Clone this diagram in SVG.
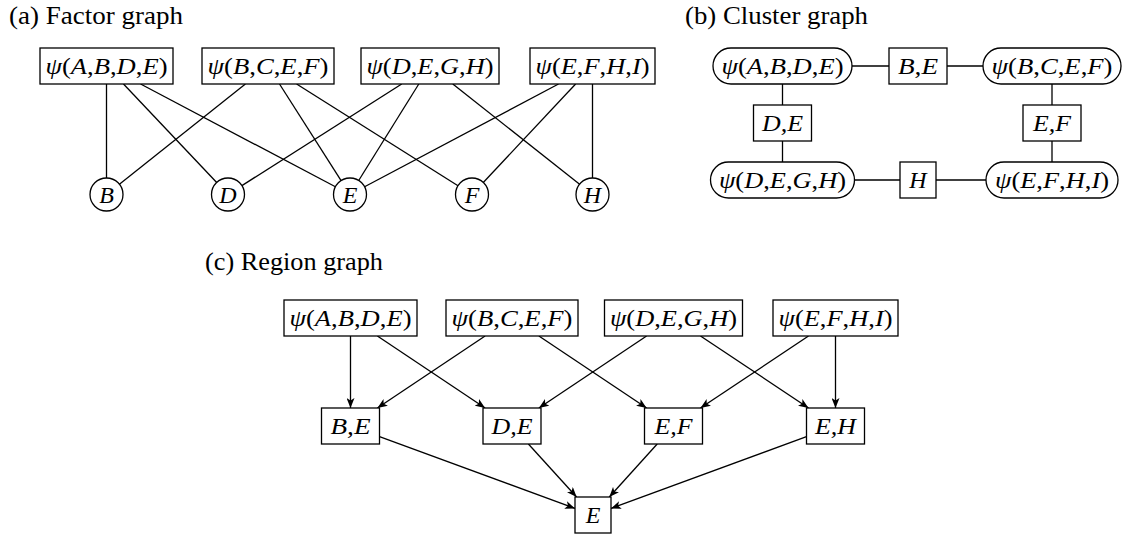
<svg xmlns="http://www.w3.org/2000/svg" width="1126" height="538" viewBox="0 0 1126 538">
<defs>
<style>
.box{fill:#fff;stroke:#000;stroke-width:1.3}
.edge{stroke:#000;stroke-width:1.3;fill:none}
.arr{marker-end:url(#ah)}
.t{font-family:'Liberation Serif','Times New Roman',serif;font-size:24px;text-anchor:middle;fill:#000}
.i{font-style:italic}
.lbl{font-family:'Liberation Serif','Times New Roman',serif;font-size:25px;fill:#000}
</style>
<marker id="ah" viewBox="0 0 10 8" refX="10" refY="4" markerWidth="10" markerHeight="8" markerUnits="userSpaceOnUse" orient="auto"><path d="M0,0 L10,4 L0,8 L2.5,4 Z" fill="#000"/></marker>
</defs>
<rect width="1126" height="538" fill="#fff"/>

<g id="labels">
<text class="lbl" x="9" y="24" textLength="174" lengthAdjust="spacingAndGlyphs">(a) Factor graph</text>
<text class="lbl" x="685" y="24" textLength="183" lengthAdjust="spacingAndGlyphs">(b) Cluster graph</text>
<text class="lbl" x="205" y="270" textLength="178" lengthAdjust="spacingAndGlyphs">(c) Region graph</text>
</g>

<g id="connectors">
<line class="edge" x1="106.5" y1="84" x2="106.5" y2="178"/>
<line class="edge" x1="123.5" y1="84" x2="216.7" y2="182.5"/>
<line class="edge" x1="140.6" y1="84" x2="335.4" y2="186.8"/>
<line class="edge" x1="245.4" y1="84" x2="119.4" y2="184.2"/>
<line class="edge" x1="279.5" y1="84" x2="341.1" y2="180.6"/>
<line class="edge" x1="296.6" y1="84" x2="458.0" y2="185.7"/>
<line class="edge" x1="401.7" y1="84" x2="241.9" y2="185.6"/>
<line class="edge" x1="418.8" y1="84" x2="358.7" y2="180.5"/>
<line class="edge" x1="452.8" y1="84" x2="579.6" y2="184.3"/>
<line class="edge" x1="558.5" y1="84" x2="364.6" y2="186.8"/>
<line class="edge" x1="575.6" y1="84" x2="483.3" y2="182.5"/>
<line class="edge" x1="592.5" y1="84" x2="592.5" y2="178"/>
<line class="edge" x1="852" y1="66" x2="889" y2="66"/>
<line class="edge" x1="947" y1="66" x2="983" y2="66"/>
<line class="edge" x1="782.5" y1="84" x2="782.5" y2="105"/>
<line class="edge" x1="782.5" y1="141" x2="782.5" y2="162"/>
<line class="edge" x1="1052" y1="84" x2="1052" y2="105"/>
<line class="edge" x1="1052" y1="141" x2="1052" y2="162"/>
<line class="edge" x1="854.5" y1="180" x2="900" y2="180"/>
<line class="edge" x1="936" y1="180" x2="986" y2="180"/>
<line class="edge arr" x1="350.5" y1="336" x2="350.5" y2="408"/>
<line class="edge arr" x1="377.4" y1="336" x2="485.1" y2="408"/>
<line class="edge arr" x1="485.1" y1="336" x2="377.4" y2="408"/>
<line class="edge arr" x1="538.9" y1="336" x2="646.6" y2="408"/>
<line class="edge arr" x1="646.6" y1="336" x2="538.9" y2="408"/>
<line class="edge arr" x1="700.5" y1="336" x2="808.5" y2="408"/>
<line class="edge arr" x1="808.5" y1="336" x2="700.5" y2="408"/>
<line class="edge arr" x1="835.5" y1="336" x2="835.5" y2="408"/>
<line class="edge arr" x1="379.5" y1="436.6" x2="575" y2="508.4"/>
<line class="edge arr" x1="528.4" y1="444" x2="576.6" y2="497"/>
<line class="edge arr" x1="657.2" y1="444" x2="609.3" y2="497"/>
<line class="edge arr" x1="806.5" y1="436.6" x2="611" y2="508.4"/>
</g>

<g id="factor-graph">
<g id="a-ABDE"><rect class="box" x="40" y="48" width="133" height="36"/><text class="t" x="106.5" y="74" textLength="122" lengthAdjust="spacingAndGlyphs"><tspan class="i">ψ</tspan>(<tspan class="i">A</tspan>,<tspan class="i">B</tspan>,<tspan class="i">D</tspan>,<tspan class="i">E</tspan>)</text></g>
<g id="a-BCEF"><rect class="box" x="202" y="48" width="132" height="36"/><text class="t" x="268" y="74" textLength="121" lengthAdjust="spacingAndGlyphs"><tspan class="i">ψ</tspan>(<tspan class="i">B</tspan>,<tspan class="i">C</tspan>,<tspan class="i">E</tspan>,<tspan class="i">F</tspan>)</text></g>
<g id="a-DEGH"><rect class="box" x="361" y="48" width="138" height="36"/><text class="t" x="430" y="74" textLength="127" lengthAdjust="spacingAndGlyphs"><tspan class="i">ψ</tspan>(<tspan class="i">D</tspan>,<tspan class="i">E</tspan>,<tspan class="i">G</tspan>,<tspan class="i">H</tspan>)</text></g>
<g id="a-EFHI"><rect class="box" x="530" y="48" width="125" height="36"/><text class="t" x="592.5" y="74" textLength="114" lengthAdjust="spacingAndGlyphs"><tspan class="i">ψ</tspan>(<tspan class="i">E</tspan>,<tspan class="i">F</tspan>,<tspan class="i">H</tspan>,<tspan class="i">I</tspan>)</text></g>
<g id="a-B"><circle class="box" cx="106.5" cy="194.5" r="16.5"/><text class="t i" x="106.5" y="202.5">B</text></g>
<g id="a-D"><circle class="box" cx="228" cy="194.5" r="16.5"/><text class="t i" x="228" y="202.5">D</text></g>
<g id="a-E"><circle class="box" cx="350" cy="194.5" r="16.5"/><text class="t i" x="350" y="202.5">E</text></g>
<g id="a-F"><circle class="box" cx="472" cy="194.5" r="16.5"/><text class="t i" x="472" y="202.5">F</text></g>
<g id="a-H"><circle class="box" cx="592.5" cy="194.5" r="16.5"/><text class="t i" x="592.5" y="202.5">H</text></g>
</g>

<g id="cluster-graph">
<g id="b-ABDE"><rect class="box" x="713" y="48" width="139" height="36" rx="18" ry="18"/><text class="t" x="782.5" y="74" textLength="122" lengthAdjust="spacingAndGlyphs"><tspan class="i">ψ</tspan>(<tspan class="i">A</tspan>,<tspan class="i">B</tspan>,<tspan class="i">D</tspan>,<tspan class="i">E</tspan>)</text></g>
<g id="b-BE"><rect class="box" x="889" y="48" width="58" height="36"/><text class="t i" x="918" y="74" textLength="40" lengthAdjust="spacingAndGlyphs">B,E</text></g>
<g id="b-BCEF"><rect class="box" x="983" y="48" width="138" height="36" rx="18" ry="18"/><text class="t" x="1052" y="74" textLength="121" lengthAdjust="spacingAndGlyphs"><tspan class="i">ψ</tspan>(<tspan class="i">B</tspan>,<tspan class="i">C</tspan>,<tspan class="i">E</tspan>,<tspan class="i">F</tspan>)</text></g>
<g id="b-DE"><rect class="box" x="753.5" y="105" width="58" height="36"/><text class="t i" x="782.5" y="131" textLength="41" lengthAdjust="spacingAndGlyphs">D,E</text></g>
<g id="b-EF"><rect class="box" x="1023" y="105" width="58" height="36"/><text class="t i" x="1052" y="131" textLength="38" lengthAdjust="spacingAndGlyphs">E,F</text></g>
<g id="b-DEGH"><rect class="box" x="710.5" y="162" width="144" height="36" rx="18" ry="18"/><text class="t" x="782.5" y="188" textLength="127" lengthAdjust="spacingAndGlyphs"><tspan class="i">ψ</tspan>(<tspan class="i">D</tspan>,<tspan class="i">E</tspan>,<tspan class="i">G</tspan>,<tspan class="i">H</tspan>)</text></g>
<g id="b-H"><rect class="box" x="900" y="162" width="36" height="36"/><text class="t i" x="918" y="188">H</text></g>
<g id="b-EFHI"><rect class="box" x="986" y="162" width="132" height="36" rx="18" ry="18"/><text class="t" x="1052" y="188" textLength="114" lengthAdjust="spacingAndGlyphs"><tspan class="i">ψ</tspan>(<tspan class="i">E</tspan>,<tspan class="i">F</tspan>,<tspan class="i">H</tspan>,<tspan class="i">I</tspan>)</text></g>
</g>

<g id="region-graph">
<g id="c-ABDE"><rect class="box" x="284" y="300" width="133" height="36"/><text class="t" x="350.5" y="326" textLength="122" lengthAdjust="spacingAndGlyphs"><tspan class="i">ψ</tspan>(<tspan class="i">A</tspan>,<tspan class="i">B</tspan>,<tspan class="i">D</tspan>,<tspan class="i">E</tspan>)</text></g>
<g id="c-BCEF"><rect class="box" x="446" y="300" width="132" height="36"/><text class="t" x="512" y="326" textLength="121" lengthAdjust="spacingAndGlyphs"><tspan class="i">ψ</tspan>(<tspan class="i">B</tspan>,<tspan class="i">C</tspan>,<tspan class="i">E</tspan>,<tspan class="i">F</tspan>)</text></g>
<g id="c-DEGH"><rect class="box" x="604.5" y="300" width="138" height="36"/><text class="t" x="673.5" y="326" textLength="127" lengthAdjust="spacingAndGlyphs"><tspan class="i">ψ</tspan>(<tspan class="i">D</tspan>,<tspan class="i">E</tspan>,<tspan class="i">G</tspan>,<tspan class="i">H</tspan>)</text></g>
<g id="c-EFHI"><rect class="box" x="773" y="300" width="125" height="36"/><text class="t" x="835.5" y="326" textLength="114" lengthAdjust="spacingAndGlyphs"><tspan class="i">ψ</tspan>(<tspan class="i">E</tspan>,<tspan class="i">F</tspan>,<tspan class="i">H</tspan>,<tspan class="i">I</tspan>)</text></g>
<g id="c-BE"><rect class="box" x="321.5" y="408" width="58" height="36"/><text class="t i" x="350.5" y="434" textLength="40" lengthAdjust="spacingAndGlyphs">B,E</text></g>
<g id="c-DE"><rect class="box" x="483" y="408" width="58" height="36"/><text class="t i" x="512" y="434" textLength="41" lengthAdjust="spacingAndGlyphs">D,E</text></g>
<g id="c-EF"><rect class="box" x="644.5" y="408" width="58" height="36"/><text class="t i" x="673.5" y="434" textLength="38" lengthAdjust="spacingAndGlyphs">E,F</text></g>
<g id="c-EH"><rect class="box" x="806.5" y="408" width="58" height="36"/><text class="t i" x="835.5" y="434" textLength="41" lengthAdjust="spacingAndGlyphs">E,H</text></g>
<g id="c-E"><rect class="box" x="575" y="497" width="36" height="36"/><text class="t i" x="593" y="523">E</text></g>
</g>
</svg>
